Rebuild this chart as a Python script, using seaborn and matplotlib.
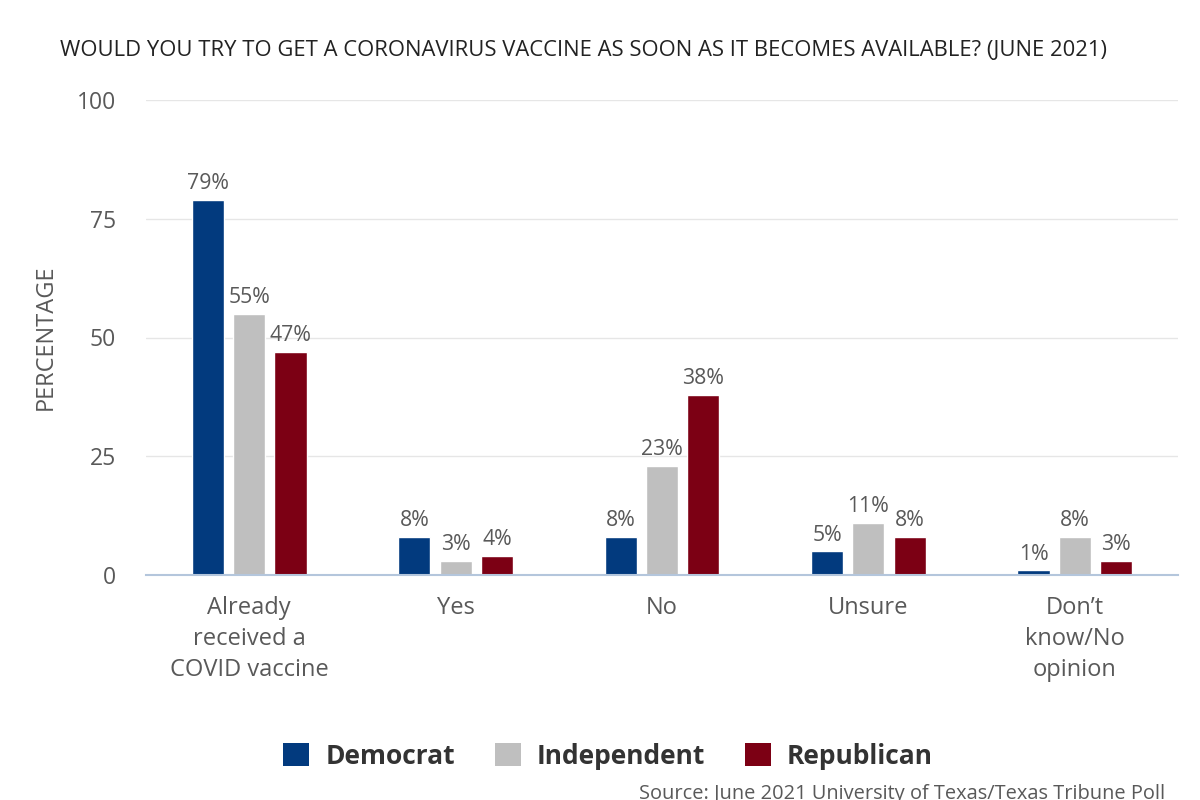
import matplotlib
matplotlib.use("Agg")
import matplotlib.pyplot as plt
from matplotlib.patches import Patch
import numpy as np
import pandas as pd
import seaborn as sns

CATEGORIES = ["Already\nreceived a\nCOVID vaccine", "Yes", "No", "Unsure", "Don\u2019t\nknow/No\nopinion"]
PARTIES = ["Democrat", "Independent", "Republican"]
DEMOCRAT = [79, 8, 8, 5, 1]
INDEPENDENT = [55, 3, 23, 11, 8]
REPUBLICAN = [47, 4, 38, 8, 3]
COLORS = {"Democrat": "#023a7e", "Independent": "#bfbfbf", "Republican": "#7c0014"}

TITLE = "WOULD YOU TRY TO GET A CORONAVIRUS VACCINE AS SOON AS IT BECOMES AVAILABLE? (JUNE 2021)"
SOURCE = "Source: June 2021 University of Texas/Texas Tribune Poll"

df = pd.DataFrame({
    "category": CATEGORIES * 3,
    "party": [p for p in PARTIES for _ in CATEGORIES],
    "value": DEMOCRAT + INDEPENDENT + REPUBLICAN,
})

sns.set_theme(style="white")
plt.rcParams["font.family"] = ["Open Sans", "DejaVu Sans"]

TXT = "#595959"
AXC = "#b4c6dc"

fig = plt.figure(figsize=(12, 8), dpi=100)
ax = fig.add_axes([146 / 1200, 1 - 575 / 800, 1032 / 1200, 475 / 800])

sns.barplot(data=df, x="category", y="value", hue="party", palette=COLORS,
            order=CATEGORIES, hue_order=PARTIES, width=0.6, gap=0.22,
            saturation=1, legend=False, ax=ax)

for cont in ax.containers:
    ax.bar_label(cont, labels=[f"{v:.0f}%" for v in cont.datavalues],
                 padding=4, fontsize=15.3, color=TXT)

ax.set_ylim(0, 100)
ax.set_xlim(-0.5, 4.5)
ax.set_yticks([0, 25, 50, 75, 100])
ax.tick_params(axis="y", length=0, labelsize=16.5, labelcolor=TXT, pad=21.5)
ax.grid(axis="y", color="#e6e6e6", linewidth=1)
ax.set_axisbelow(True)

ax.set_xticks(range(len(CATEGORIES)))
ax.set_xticklabels(CATEGORIES, fontsize=17, color=TXT, linespacing=1.4, va="top")
ax.tick_params(axis="x", which="major", length=0, pad=15)
ax.set_xticks(np.arange(-0.5, 5, 1), minor=True)
ax.tick_params(axis="x", which="minor", length=17, width=1.2, color=AXC)

for side in ["top", "right", "left"]:
    ax.spines[side].set_visible(False)
ax.spines["bottom"].set_color(AXC)
ax.spines["bottom"].set_linewidth(1.5)

ax.set_xlabel("")
ax.set_ylabel("PERCENTAGE", fontsize=17, color=TXT, labelpad=14)

fig.text(60 / 1200, 1 - 50 / 800, TITLE, fontsize=15.8, color="#222222", va="center", ha="left")

handles = [Patch(facecolor=COLORS[p], edgecolor="none") for p in PARTIES]
fig.legend(handles, PARTIES, loc="center", bbox_to_anchor=(608 / 1200, 1 - 756 / 800),
           ncol=3, frameon=False, handlelength=1.0, handleheight=1.0, handletextpad=0.6,
           columnspacing=1.5, prop={"size": 19, "weight": "bold"}, labelcolor="#333333")

fig.text(1165 / 1200, 1 - 794 / 800, SOURCE, fontsize=14.4, color=TXT, ha="right", va="center")

fig.savefig("out.png", dpi=100)
